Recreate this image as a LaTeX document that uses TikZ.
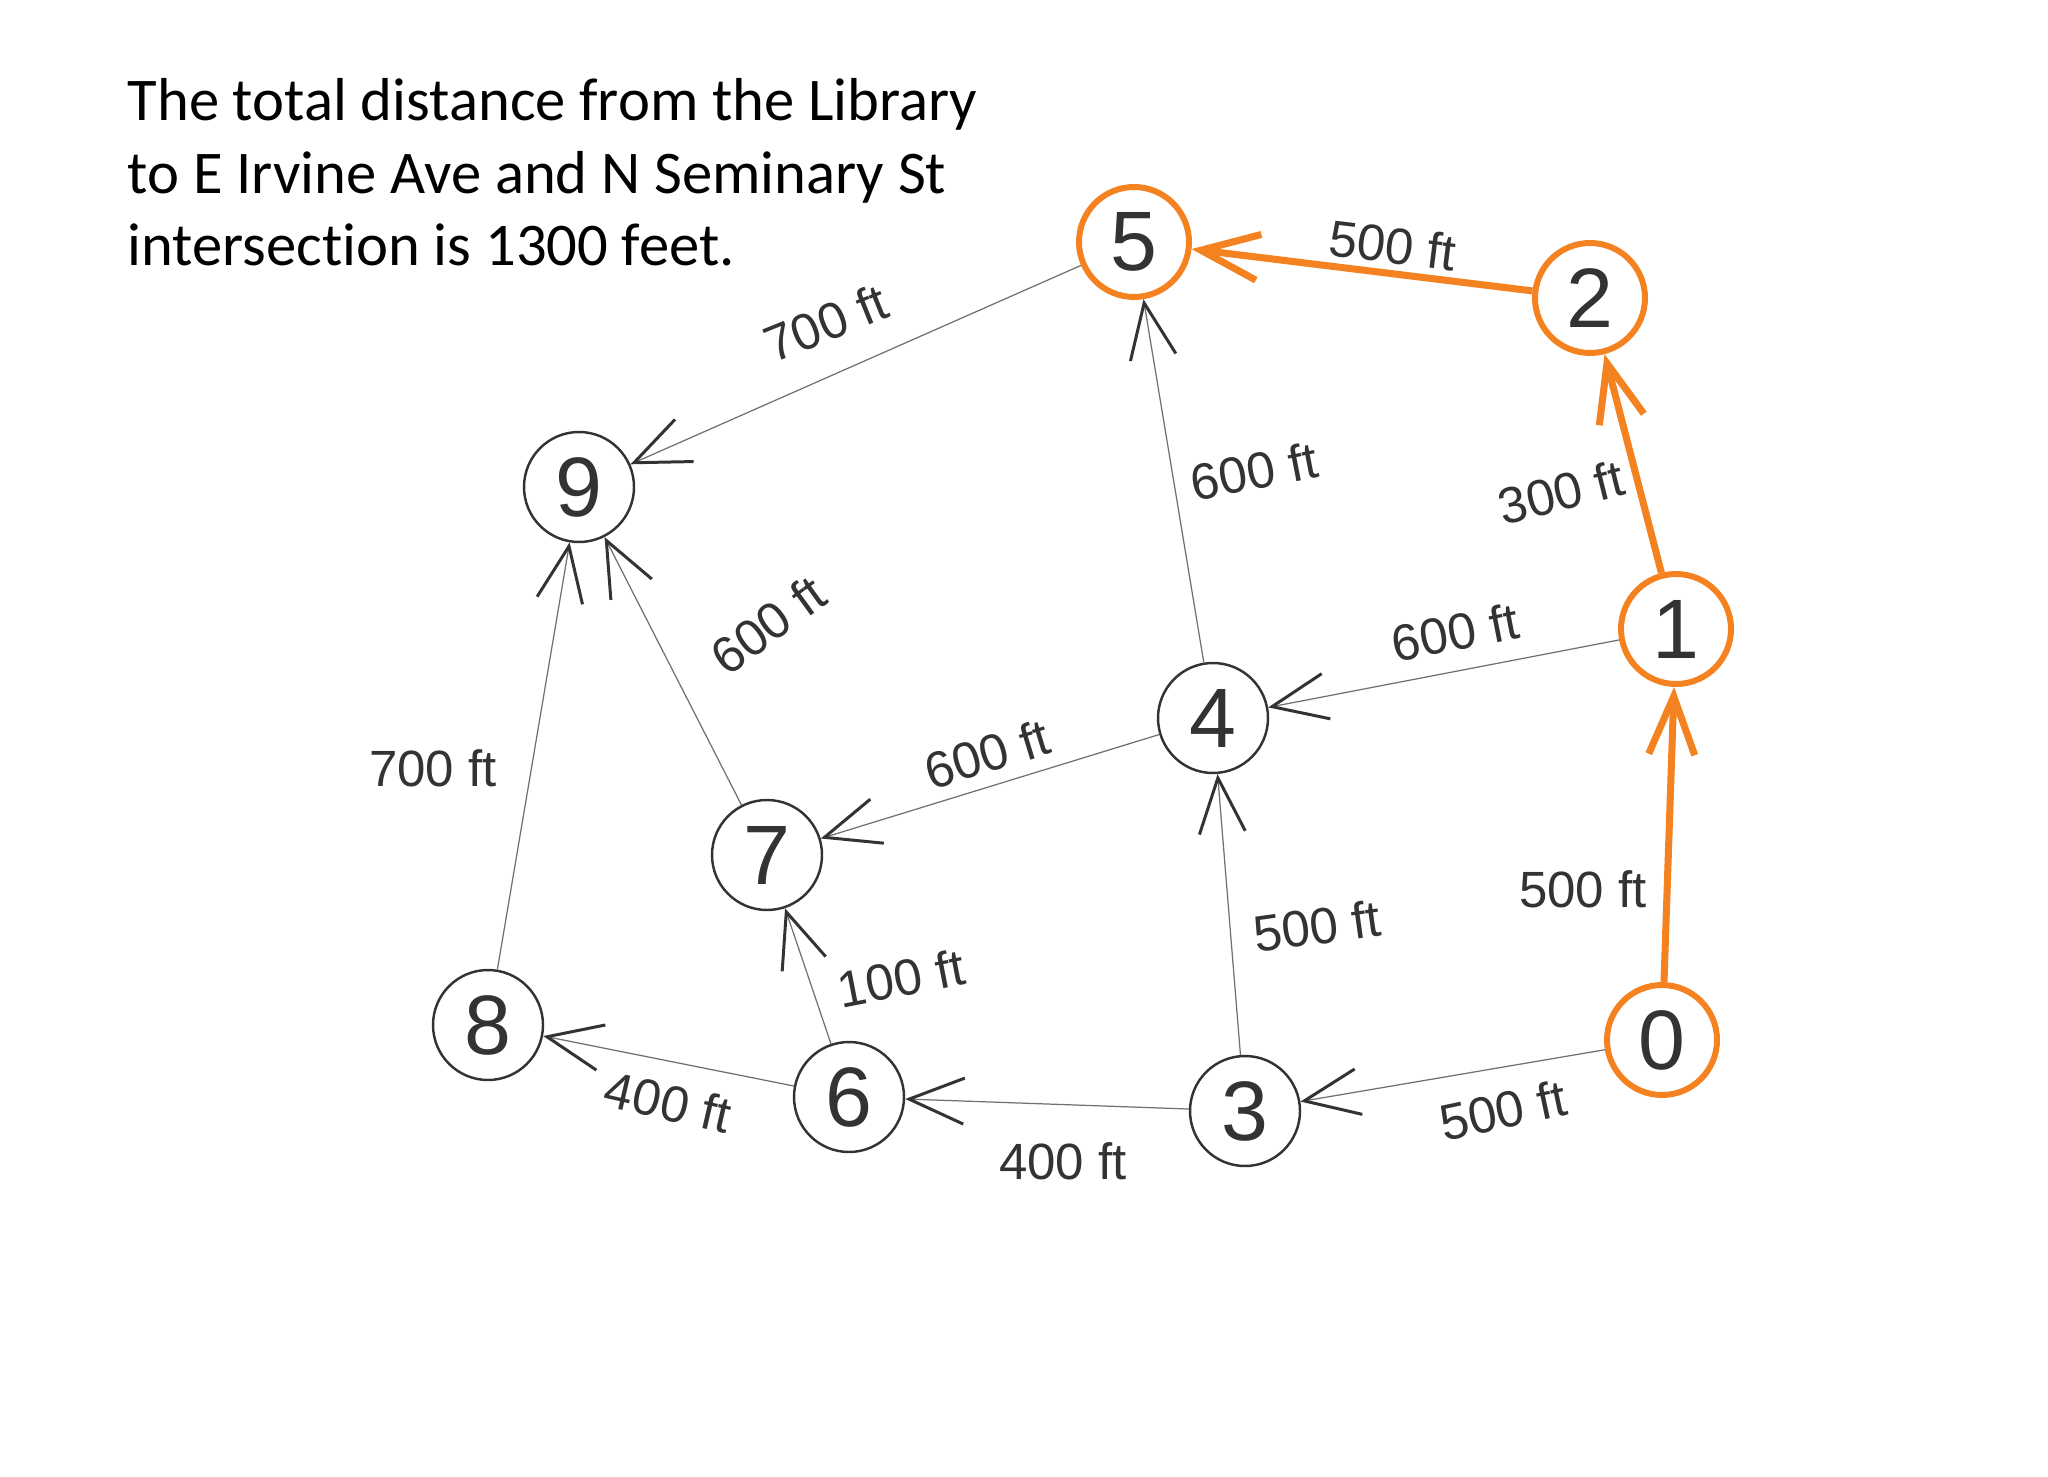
\documentclass[tikz,border=0pt]{standalone}
\usepackage{fontspec}
\setmainfont{Liberation Sans}
\newfontfamily\notefont[Ligatures=NoCommon]{Carlito}
\usetikzlibrary{arrows.meta}
\definecolor{ink}{HTML}{333333}
\definecolor{wire}{HTML}{707070}
\definecolor{route}{HTML}{F58220}
\tikzset{
  base/.style={text=ink, font=\fontsize{14.5}{17}\selectfont},
  vertex/.style={circle, draw=ink, line width=0.7pt, minimum size=11mm, inner sep=0pt, text=ink, font=\fontsize{24}{28}\selectfont},
  routevertex/.style={vertex, draw=route, line width=1.7pt},
  edge/.style={draw=wire, line width=0.35pt, -{Straight Barb[length=5.5mm, width=4.6mm, line width=0.85pt, color=ink]}},
  routeedge/.style={draw=route, line width=2pt, -{Straight Barb[length=5.8mm, width=4.6mm]}},
  dist/.style={base, inner sep=0pt},
  note/.style={font=\notefont\fontsize{17.25}{20.6}\selectfont, align=left, inner sep=0pt},
}

\begin{document}
\begin{tikzpicture}[x=0.1mm,y=-0.1mm]
  \fill[white] (0,0) rectangle (2048,1477);
  \useasboundingbox (0,0) rectangle (2048,1477);

  \node[note,anchor=north west] (note) at (127,78) {The total distance from the Library\\to E Irvine Ave and N Seminary St\\intersection is 1300 feet.};

  % intersections
  \node[routevertex] (n0) at (1662,1040) {0};
  \node[routevertex] (n1) at (1676,629) {1};
  \node[routevertex] (n2) at (1590,298) {2};
  \node[vertex] (n3) at (1245,1111) {3};
  \node[vertex] (n4) at (1213,718) {4};
  \node[routevertex] (n5) at (1134,242) {5};
  \node[vertex] (n6) at (849,1097) {6};
  \node[vertex] (n7) at (767,855) {7};
  \node[vertex] (n8) at (488,1025) {8};
  \node[vertex] (n9) at (579,487) {9};

  \draw[edge] (n5) -- (n9);
  \draw[edge] (n4) -- (n5);
  \draw[edge] (n1) -- (n4);
  \draw[edge] (n4) -- (n7);
  \draw[edge] (n7) -- (n9);
  \draw[edge] (n8) -- (n9);
  \draw[edge] (n6) -- (n7);
  \draw[edge] (n6) -- (n8);
  \draw[edge] (n3) -- (n6);
  \draw[edge] (n3) -- (n4);
  \draw[edge] (n0) -- (n3);

  % shortest route
  \draw[routeedge] (n0) -- (n1);
  \draw[routeedge] (n1) -- (n2);
  \draw[routeedge] (n2) -- (n5);

  \node[dist,rotate=-7] (d25) at (1393,245) {500 ft};
  \node[dist,rotate=14] (d12) at (1561,492) {300 ft};
  \node[dist] (d01) at (1583,889) {500 ft};
  \node[dist,rotate=22] (d59) at (826,323) {700 ft};
  \node[dist,rotate=11] (d45) at (1254,471) {600 ft};
  \node[dist,rotate=11] (d14) at (1455,632) {600 ft};
  \node[dist,rotate=17] (d47) at (987,754) {600 ft};
  \node[dist,rotate=36] (d79) at (768,625) {600 ft};
  \node[dist] (d89) at (433,768) {700 ft};
  \node[dist,rotate=11] (d67) at (901,978) {100 ft};
  \node[dist,rotate=-13] (d68) at (668,1102) {400 ft};
  \node[dist] (d36) at (1063,1161) {400 ft};
  \node[dist,rotate=8] (d34) at (1317,926) {500 ft};
  \node[dist,rotate=12] (d03) at (1503,1110) {500 ft};
\end{tikzpicture}
\end{document}
